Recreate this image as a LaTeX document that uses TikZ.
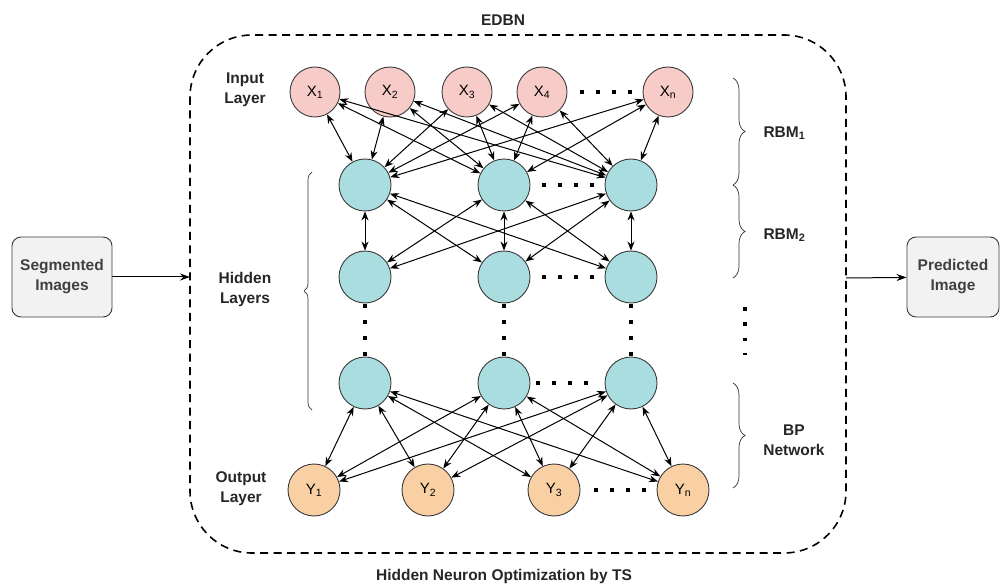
\documentclass[tikz,border=0pt]{standalone}
\usepackage{fontspec}
\setmainfont{Liberation Sans}
\usepackage{tikz}
\usetikzlibrary{arrows.meta}
\usetikzlibrary{decorations.pathreplacing}

\definecolor{inpink}{HTML}{F6CBC8}
\definecolor{hidcyan}{HTML}{A9DDE0}
\definecolor{outorange}{HTML}{F9D0A4}
\definecolor{rimgray}{HTML}{3A3A3A}
\definecolor{boxgray}{HTML}{F2F2F2}

\tikzset{
  neuron/.style={circle,draw=rimgray,line width=0.9pt,inner sep=0pt,font=\fontsize{15}{17}\selectfont},
  inp/.style={neuron,fill=inpink,minimum size=50pt},
  hid/.style={neuron,fill=hidcyan,minimum size=52pt},
  outp/.style={neuron,fill=outorange,minimum size=52pt},
  link/.style={{Stealth[length=9pt,width=7pt]}-{Stealth[length=9pt,width=7pt]},line width=1pt},
  flow/.style={-{Stealth[length=10pt,width=7pt]},line width=1pt},
  lbl/.style={align=center,font=\bfseries\fontsize{15.5}{20}\selectfont,text=black!85},
  hdots/.style={line width=3.5pt,dash pattern=on 3.5pt off 12.5pt},
  vdots/.style={line width=3.5pt,dash pattern=on 3.5pt off 12.5pt},
  braceline/.style={decorate,decoration={brace,amplitude=7pt},line width=0.7pt,draw=black!80},
  iobox/.style={rectangle,rounded corners=9pt,draw=rimgray,fill=boxgray,line width=0.9pt,minimum width=100pt,minimum height=80pt,align=center,font=\bfseries\fontsize{15.5}{20}\selectfont,text=black!75}
}

\begin{document}
\begin{tikzpicture}[x=1pt,y=-1pt]
\useasboundingbox (0,0) rectangle (1001,585);
\draw[dashed,dash pattern=on 8pt off 5.5pt,line width=1.6pt,rounded corners=62pt] (190,35) rectangle (846,553);
\draw (503,20) node (edbn) [lbl] {EDBN};
\draw (504,576) node (tslbl) [lbl] {Hidden Neuron Optimization by TS};
% input layer
\draw (315,92) node (x1) [inp] {X\textsubscript{1}};
\draw (390,92) node (x2) [inp] {X\textsubscript{2}};
\draw (467,92) node (x3) [inp] {X\textsubscript{3}};
\draw (542,92) node (x4) [inp] {X\textsubscript{4}};
\draw (668,92) node (xn) [inp] {X\textsubscript{n}};
% hidden layers
\draw (365,185) node (h11) [hid] {};
\draw (504,185) node (h12) [hid] {};
\draw (631,185) node (h13) [hid] {};
\draw (365,277) node (h21) [hid] {};
\draw (504,277) node (h22) [hid] {};
\draw (631,277) node (h23) [hid] {};
\draw (365,383) node (h31) [hid] {};
\draw (504,383) node (h32) [hid] {};
\draw (631,383) node (h33) [hid] {};
% output layer
\draw (314,490) node (y1) [outp] {Y\textsubscript{1}};
\draw (428,490) node (y2) [outp] {Y\textsubscript{2}};
\draw (554,490) node (y3) [outp] {Y\textsubscript{3}};
\draw (683,490) node (yn) [outp] {Y\textsubscript{n}};
% dots
\draw[hdots,shorten <=13pt,shorten >=11pt] (x4.east) -- (xn.west);
\draw[hdots,shorten <=12pt,shorten >=11pt] (h12.east) -- (h13.west);
\draw[hdots,shorten <=12pt,shorten >=11pt] (h22.east) -- (h23.west);
\draw[hdots,shorten <=6pt,shorten >=6pt] (h32.east) -- (h33.west);
\draw[hdots,shorten <=14pt,shorten >=10pt] (y3.east) -- (yn.west);
\draw[vdots,shorten <=1pt,shorten >=0pt] (h21.south) -- (h31.north);
\draw[vdots,shorten <=1pt,shorten >=0pt] (h22.south) -- (h32.north);
\draw[vdots,shorten <=1pt,shorten >=0pt] (h23.south) -- (h33.north);
% RBM 1
\draw[link] (x1) -- (h11);
\draw[link] (x1) -- (h12);
\draw[link] (x1) -- (h13);
\draw[link] (x2) -- (h11);
\draw[link] (x2) -- (h12);
\draw[link] (x2) -- (h13);
\draw[link] (x3) -- (h11);
\draw[link] (x3) -- (h12);
\draw[link] (x3) -- (h13);
\draw[link] (x4) -- (h11);
\draw[link] (x4) -- (h12);
\draw[link] (x4) -- (h13);
\draw[link] (xn) -- (h11);
\draw[link] (xn) -- (h12);
\draw[link] (xn) -- (h13);
% RBM 2
\draw[link] (h11) -- (h21);
\draw[link] (h11) -- (h22);
\draw[link] (h11) -- (h23);
\draw[link] (h12) -- (h21);
\draw[link] (h12) -- (h22);
\draw[link] (h12) -- (h23);
\draw[link] (h13) -- (h21);
\draw[link] (h13) -- (h22);
\draw[link] (h13) -- (h23);
% BP network
\draw[link] (h31) -- (y1);
\draw[link] (h31) -- (y2);
\draw[link] (h31) -- (y3);
\draw[link] (h31) -- (yn);
\draw[link] (h32) -- (y1);
\draw[link] (h32) -- (y2);
\draw[link] (h32) -- (y3);
\draw[link] (h32) -- (yn);
\draw[link] (h33) -- (y1);
\draw[link] (h33) -- (y2);
\draw[link] (h33) -- (y3);
\draw[link] (h33) -- (yn);
% layer labels and braces
\draw (245,90) node (inlbl) [lbl] {Input\\Layer};
\draw (245,289) node (hidlbl) [lbl] {Hidden\\Layers};
\draw (241,489) node (outlbl) [lbl] {Output\\Layer};
\draw[braceline,decoration={amplitude=8pt}] (312,410) -- (312,172);
\draw[braceline,decoration={amplitude=12pt}] (733,78) -- (733,185);
\draw[braceline,decoration={amplitude=12pt}] (733,185) -- (733,278);
\draw[braceline,decoration={amplitude=12pt}] (733,383) -- (733,488);
\draw (760,133) node (rbm1) [lbl,anchor=west] {RBM\textsubscript{1}};
\draw (760,235) node (rbm2) [lbl,anchor=west] {RBM\textsubscript{2}};
\draw (794,440) node (bplbl) [lbl] {BP\\Network};
\draw[vdots,dash pattern=on 3.5pt off 11.8pt] (745,307) -- (745,355);
% in and out
\draw (62,277) node (seg) [iobox] {Segmented\\Images};
\draw (953,277) node (pred) [iobox,minimum width=92pt] {Predicted\\Image};
\coordinate (edbnin) at (190,277);
\coordinate (edbnout) at (846,278);
\draw[flow] (seg) -- (edbnin);
\draw[flow] (edbnout) -- (pred);
\end{tikzpicture}
\end{document}
